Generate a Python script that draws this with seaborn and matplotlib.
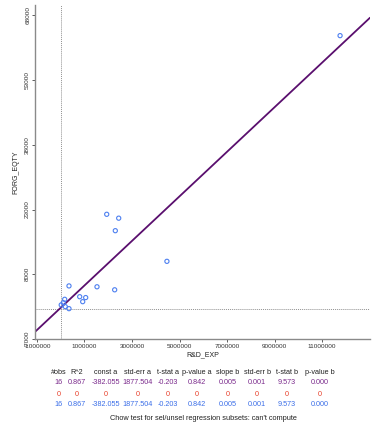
import matplotlib
matplotlib.use("Agg")
import matplotlib.pyplot as plt
import seaborn as sns
import pandas as pd

# data
rd_exp = [1935000, 2440000, 2297000, 4470000, 347000, 1526000, 2270000, 166000,
          798000, 1050000, 924000, 107000, 190000, 347000, 20000, 11760000]
forg_eqty = [21900, 21000, 18100, 11000, 5300, 5100, 4400, 2200,
             2800, 2600, 1650, 1400, 500, 30, 900, 63300]

x_ticks = [-1000000, 1000000, 3000000, 5000000, 7000000, 9000000, 11000000]
y_ticks = [-7000, 8000, 23000, 38000, 53000, 68000]

headers = ["#obs", "R^2", "const a", "std-err a", "t-stat a", "p-value a",
           "slope b", "std-err b", "t-stat b", "p-value b"]
row_all = ["16", "0.867", "-382.055", "1877.504", "-0.203", "0.842", "0.005", "0.001", "9.573", "0.000"]
row_sel = ["0", "0", "0", "0", "0", "0", "0", "0", "0", "0"]
row_unsel = ["16", "0.867", "-382.055", "1877.504", "-0.203", "0.842", "0.005", "0.001", "9.573", "0.000"]
chow_text = "Chow test for sel/unsel regression subsets: can't compute"

df = pd.DataFrame({"R&D_EXP": rd_exp, "FORG_EQTY": forg_eqty})

sns.set_theme(style="white")
plt.rcParams["font.family"] = ["Liberation Sans", "DejaVu Sans"]

fig = plt.figure(figsize=(3.72, 4.26), dpi=100)
ax = fig.add_axes([35 / 372, 1 - 339 / 426, (370 - 35) / 372, (339 - 5) / 426])

ax.set_xlim(-1084000, 13020000)
ax.set_ylim(-7000, 70400)

ax.axvline(0, color="#909090", lw=0.7, ls=(0, (1, 1)), zorder=1)
ax.axhline(0, color="#909090", lw=0.7, ls=(0, (1, 1)), zorder=1)

sns.scatterplot(data=df, x="R&D_EXP", y="FORG_EQTY", ax=ax, marker="o", s=9,
                facecolor="none", edgecolor="#4c7ff0", linewidth=0.8, zorder=3)
sns.regplot(data=df, x="R&D_EXP", y="FORG_EQTY", ax=ax, scatter=False, ci=None,
            truncate=False, line_kws={"color": "#5a0f6e", "lw": 1.3, "zorder": 2})

ax.set_xticks(x_ticks)
ax.set_xticklabels([str(v) for v in x_ticks], fontsize=4.6, color="#333333")
ax.set_yticks(y_ticks)
ax.set_yticklabels([str(v) for v in y_ticks], fontsize=4.6, color="#333333",
                   rotation=90, va="center")
ax.tick_params(axis="both", length=2, width=0.6, color="#444444", pad=1.5,
               bottom=True, left=True)
ax.set_xlabel("R&D_EXP", fontsize=5, color="#222222", labelpad=2)
ax.set_ylabel("FORG_EQTY", fontsize=5, color="#222222", labelpad=4)

for s in ["top", "right"]:
    ax.spines[s].set_visible(False)
for s in ["left", "bottom"]:
    ax.spines[s].set_color("#8a8a8a")
    ax.spines[s].set_linewidth(1.0)

col_x = [59, 77, 106, 138, 168, 197, 228, 257, 287, 320]
rows = [(headers, "#222222", 372), (row_all, "#7a2a8c", 383),
        (row_sel, "#e8402a", 394), (row_unsel, "#3a6ee8", 405)]
for vals, color, py in rows:
    for cx, v in zip(col_x, vals):
        fig.text(cx / 372, 1 - py / 426, v, ha="center", va="center",
                 fontsize=5.2, color=color)
fig.text(203 / 372, 1 - 419 / 426, chow_text, ha="center", va="center",
         fontsize=5.3, color="#222222")

fig.savefig("out.png", dpi=100)
